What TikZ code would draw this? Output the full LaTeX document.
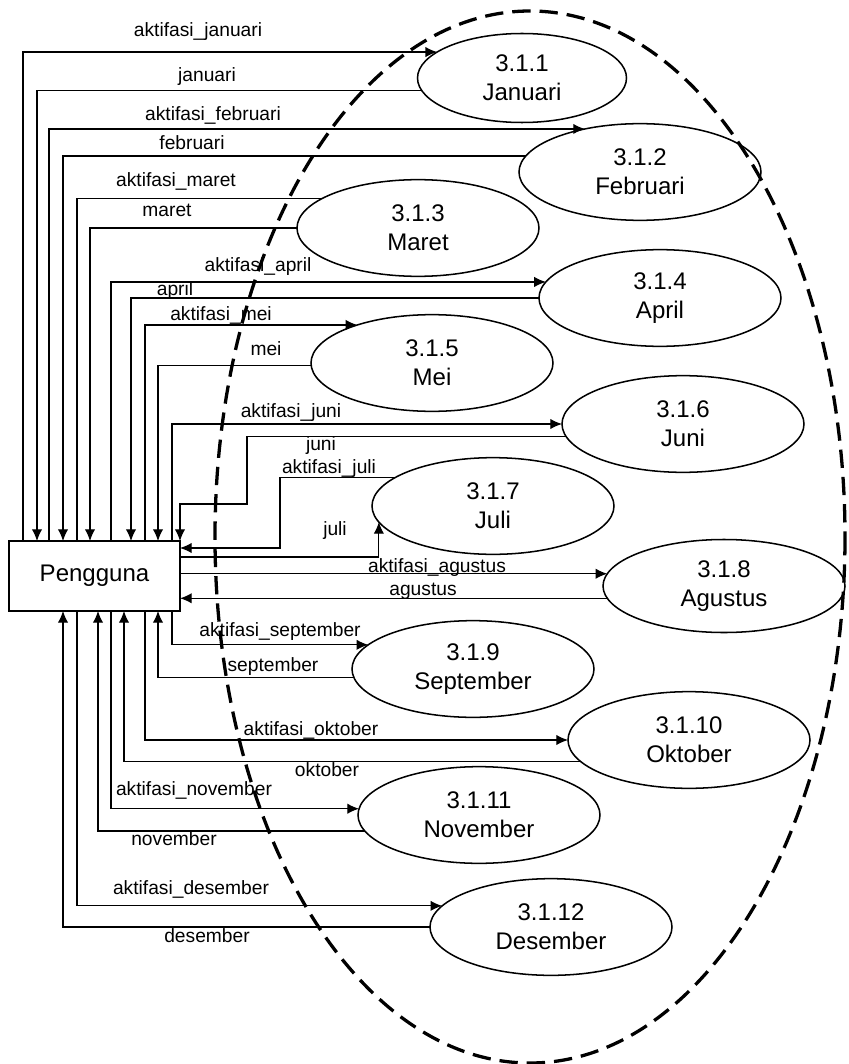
\documentclass[tikz,border=0pt]{standalone}
\usepackage{fontspec}
\setmainfont{Liberation Sans}
\usepackage{tikz}
\usetikzlibrary{arrows.meta,shapes.geometric}

\begin{document}
\begin{tikzpicture}[x=0.3mm, y=-0.3mm,
  >={Latex[length=3.5mm,width=3.1mm]},
  proses/.style={draw, ellipse, line width=1.3pt, minimum width=72.6mm, minimum height=29mm,
    inner sep=0pt, outer sep=0pt, align=center, font=\fontsize{20.5}{25}\selectfont},
  entitas/.style={draw, rectangle, line width=1.3pt, minimum width=51.3mm, minimum height=21mm,
    outer sep=0pt, font=\fontsize{20.5}{25}\selectfont},
  alir/.style={line width=1pt},
  ket/.style={font=\fontsize{16.4}{19}\selectfont, inner sep=0pt, text height=0.72em, text depth=0.2em}]

  \useasboundingbox (0,0) rectangle (848,1064);

  % batas proses
  \draw[line width=2.8pt, dash pattern=on 5.5mm off 2.7mm] (530,537) ellipse [x radius=315, y radius=526];

  \node[entitas] (peng) at (94.5,576) {Pengguna};

  \node[proses, minimum width=62.7mm, minimum height=26.7mm] (jan) at (522,78) {3.1.1\\Januari};
  \node[proses] (feb) at (640,172) {3.1.2\\Februari};
  \node[proses] (mar) at (418,228) {3.1.3\\Maret};
  \node[proses] (apr) at (660,298) {3.1.4\\April};
  \node[proses] (mei) at (432,363) {3.1.5\\Mei};
  \node[proses] (jun) at (683,424) {3.1.6\\Juni};
  \node[proses] (jul) at (493,506) {3.1.7\\Juli};
  \node[proses, minimum height=27.9mm] (agu) at (724,586) {3.1.8\\Agustus};
  \node[proses] (sep) at (473,669) {3.1.9\\September};
  \node[proses] (okt) at (689,740) {3.1.10\\Oktober};
  \node[proses] (nov) at (479,815) {3.1.11\\November};
  \node[proses] (des) at (551,927) {3.1.12\\Desember};

  % januari
  \draw[alir,->] (peng.north -| 23,0) |- (jan.163);
  \draw[alir,->] (jan.-173) -| (peng.north -| 37,0);
  % februari
  \draw[alir,->] (peng.north -| 49,0) |- (feb.142);
  \draw[alir,->] (feb.172.3) -| (peng.north -| 63,0);
  % maret
  \draw[alir] (peng.north -| 77,0) |- (mar.163.2);
  \draw[alir,->] (mar.west) -| (peng.north -| 90,0);
  % april
  \draw[alir,->] (peng.north -| 111,0) |- (apr.172.7);
  \draw[alir,->] (apr.west) -| (peng.north -| 131,0);
  % mei
  \draw[alir,->] (peng.north -| 145,0) |- (mei.153);
  \draw[alir,->] (mei.181.9) -| (peng.north -| 158,0);
  % juni
  \draw[alir,->] (peng.north -| 172,0) |- (jun.west);
  \coordinate (jun1) at (247,504);
  \draw[alir,->] (jun.186.9) -| (jun1) -| (peng.north east);
  % juli
  \coordinate (jul1) at (280,548);
  \draw[alir,->] (jul.164.1) -| (jul1) -- (jul1 -| peng.east);
  \draw[alir,->] (peng.east |- 0,557) -| (jul.188.7);
  % agustus
  \draw[alir,->] (peng.east |- agu.174.7) -- (agu.174.7);
  \draw[alir,->] (agu.186.8) -- (peng.east |- agu.186.8);
  % september
  \draw[alir,->] (peng.south -| 172,0) |- (sep.167.8);
  \draw[alir,->] (sep.184.4) -| (peng.south -| 158,0);
  % oktober
  \draw[alir,->] (peng.south -| 145,0) |- (okt.west);
  \draw[alir,->] (okt.191.4) -| (peng.south -| 124,0);
  % november
  \draw[alir,->] (peng.south -| 111,0) |- (nov.177);
  \draw[alir,->] (nov.188.6) -| (peng.south -| 98,0);
  % desember
  \draw[alir,->] (peng.south -| 77,0) |- (des.169.8);
  \draw[alir,->] (des.west) -| (peng.south -| 63,0);

  % keterangan aliran
  \node[ket] (k1a) at (198,33) {aktifasi\_januari};
  \node[ket] (k1b) at (207,78) {januari};
  \node[ket] (k2a) at (213,117) {aktifasi\_februari};
  \node[ket] (k2b) at (192,146) {februari};
  \node[ket] (k3a) at (176,183) {aktifasi\_maret};
  \node[ket] (k3b) at (167,213) {maret};
  \node[ket] (k4a) at (258,268) {aktifasi\_april};
  \node[ket] (k4b) at (175,292) {april};
  \node[ket] (k5a) at (221,317) {aktifasi\_mei};
  \node[ket] (k5b) at (266,352) {mei};
  \node[ket] (k6a) at (291,414) {aktifasi\_juni};
  \node[ket] (k6b) at (321,447) {juni};
  \node[ket] (k7a) at (329,470) {aktifasi\_juli};
  \node[ket] (k7b) at (335,532) {juli};
  \node[ket] (k8a) at (437,569) {aktifasi\_agustus};
  \node[ket] (k8b) at (423,592) {agustus};
  \node[ket] (k9a) at (280,633) {aktifasi\_september};
  \node[ket] (k9b) at (273,668) {september};
  \node[ket] (k10a) at (311,732) {aktifasi\_oktober};
  \node[ket] (k10b) at (327,773) {oktober};
  \node[ket] (k11a) at (194,792) {aktifasi\_november};
  \node[ket] (k11b) at (174,842) {november};
  \node[ket] (k12a) at (191,891) {aktifasi\_desember};
  \node[ket] (k12b) at (207,939) {desember};

\end{tikzpicture}
\end{document}
